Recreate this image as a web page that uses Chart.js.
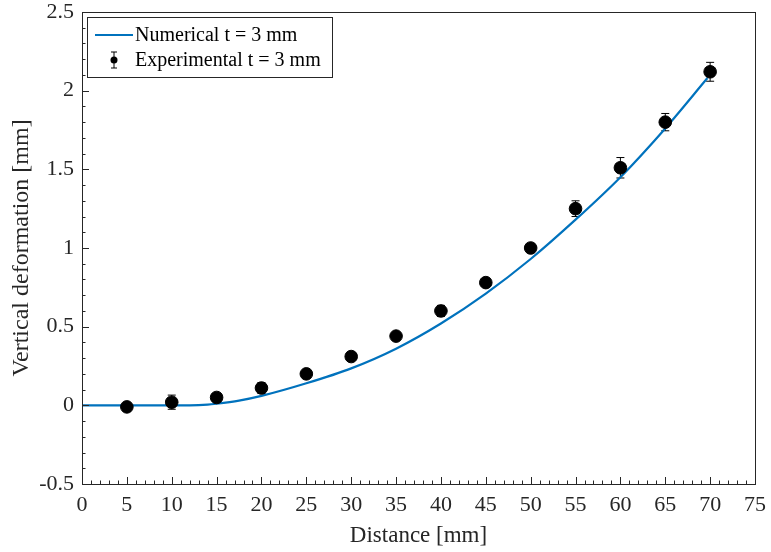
<!DOCTYPE html>
<html>
<head>
<meta charset="utf-8">
<script src="https://cdn.jsdelivr.net/npm/chart.js@4"></script>
<style>
  html, body { margin: 0; padding: 0; background: #fff; }
</style>
</head>
<body>
<canvas id="deform-chart" width="771" height="552"></canvas>
<script>
// experimental points
var expDistance = [5, 10, 15, 20, 25, 30, 35, 40, 45, 50, 55, 60, 65, 70];
var expDeform = [-0.01, 0.02, 0.05, 0.11, 0.2, 0.31, 0.44, 0.6, 0.78, 1.0, 1.25, 1.51, 1.8, 2.12];
var expError = [0.02, 0.045, 0.02, 0.035, 0.02, 0.02, 0.02, 0.035, 0.025, 0.025, 0.05, 0.065, 0.055, 0.06];

// numerical curve
var numDistance = [0, 5, 10, 12, 14, 15, 17.5, 20, 25, 30, 35, 40, 45, 50, 55, 60, 65, 69.7];
var numDeform = [0, 0, 0, 0, 0.004, 0.01, 0.03, 0.06, 0.14, 0.235, 0.36, 0.52, 0.71, 0.93, 1.18, 1.45, 1.76, 2.08];

var xTicks = [0, 5, 10, 15, 20, 25, 30, 35, 40, 45, 50, 55, 60, 65, 70, 75];
var yTicks = [-0.5, 0, 0.5, 1, 1.5, 2, 2.5];

var serif = '"Liberation Serif", "DejaVu Serif", serif';

function toPoints(xs, ys) {
  var pts = [];
  for (var i = 0; i < xs.length; i++) pts.push({ x: xs[i], y: ys[i] });
  return pts;
}

// error bars with caps
var errorBars = {
  id: 'errorBars',
  beforeDatasetsDraw: function (chart) {
    var ctx = chart.ctx;
    var xs = chart.scales.x, ys = chart.scales.y;
    ctx.save();
    ctx.strokeStyle = '#000';
    ctx.lineWidth = 1;
    for (var i = 0; i < expDistance.length; i++) {
      var px = xs.getPixelForValue(expDistance[i]);
      var top = ys.getPixelForValue(expDeform[i] + expError[i]);
      var bot = ys.getPixelForValue(expDeform[i] - expError[i]);
      ctx.beginPath();
      ctx.moveTo(px, top); ctx.lineTo(px, bot);
      ctx.moveTo(px - 4, top); ctx.lineTo(px + 4, top);
      ctx.moveTo(px - 4, bot); ctx.lineTo(px + 4, bot);
      ctx.stroke();
    }
    ctx.restore();
  }
};

// box, inward ticks and legend
var frame = {
  id: 'frame',
  afterDraw: function (chart) {
    var ctx = chart.ctx;
    var a = chart.chartArea;
    var xs = chart.scales.x, ys = chart.scales.y;
    ctx.save();
    ctx.strokeStyle = '#262626';
    ctx.lineWidth = 1;
    ctx.beginPath();
    var v, p;
    for (v = 0; v <= 75; v++) {
      p = Math.round(xs.getPixelForValue(v)) + 0.5;
      var len = (v % 5 === 0) ? 7 : 3.5;
      ctx.moveTo(p, a.bottom); ctx.lineTo(p, a.bottom - len);
    }
    for (v = -5; v <= 25; v++) {
      p = Math.round(ys.getPixelForValue(v / 10)) + 0.5;
      var len2 = (v % 5 === 0) ? 7 : 3.5;
      ctx.moveTo(a.left, p); ctx.lineTo(a.left + len2, p);
    }
    ctx.stroke();
    ctx.strokeRect(Math.round(a.left) + 0.5, Math.round(a.top) + 0.5,
      Math.round(a.right - a.left), Math.round(a.bottom - a.top));

    // legend
    var lx = a.left + 5, ly = a.top + 5;
    ctx.fillStyle = '#fff';
    ctx.fillRect(lx, ly, 245, 60);
    ctx.strokeStyle = '#262626';
    ctx.strokeRect(lx + 0.5, ly + 0.5, 245, 60);
    ctx.strokeStyle = '#0072BD';
    ctx.lineWidth = 2;
    ctx.beginPath();
    ctx.moveTo(lx + 8, ly + 18); ctx.lineTo(lx + 46, ly + 18);
    ctx.stroke();
    var mx = lx + 27, my = ly + 43;
    ctx.strokeStyle = '#000';
    ctx.lineWidth = 1;
    ctx.beginPath();
    ctx.moveTo(mx, my - 8); ctx.lineTo(mx, my + 8);
    ctx.moveTo(mx - 3, my - 8); ctx.lineTo(mx + 3, my - 8);
    ctx.moveTo(mx - 3, my + 8); ctx.lineTo(mx + 3, my + 8);
    ctx.stroke();
    ctx.fillStyle = '#000';
    ctx.beginPath();
    ctx.arc(mx, my, 3.5, 0, Math.PI * 2);
    ctx.fill();
    ctx.font = '20px ' + serif;
    ctx.textBaseline = 'middle';
    ctx.fillText('Numerical t = 3 mm', lx + 48, ly + 19);
    ctx.fillText('Experimental t = 3 mm', lx + 48, ly + 44);
    ctx.restore();
  }
};

var ctx = document.getElementById('deform-chart').getContext('2d');
var chart = new Chart(ctx, {
  type: 'scatter',
  data: {
    datasets: [{
      label: 'Numerical t = 3 mm',
      type: 'line',
      data: toPoints(numDistance, numDeform),
      borderColor: '#0072BD',
      borderWidth: 2.2,
      pointRadius: 0,
      cubicInterpolationMode: 'monotone',
      fill: false,
      order: 2
    }, {
      label: 'Experimental t = 3 mm',
      data: toPoints(expDistance, expDeform),
      backgroundColor: '#000',
      borderColor: '#000',
      pointRadius: 6.3,
      order: 1
    }]
  },
  options: {
    responsive: false,
    animation: false,
    devicePixelRatio: 1,
    layout: { padding: { top: 12, right: 16, left: 0, bottom: 0 } },
    plugins: {
      legend: { display: false },
      tooltip: { enabled: false }
    },
    scales: {
      x: {
        type: 'linear',
        min: 0,
        max: 75,
        afterFit: function (s) { s.height = 68; s.paddingLeft = 0; s.paddingRight = 0; },
        afterBuildTicks: function (s) { s.ticks = xTicks.map(function (v) { return { value: v }; }); },
        grid: { display: false, drawTicks: false },
        border: { display: false },
        ticks: { color: '#262626', font: { family: serif, size: 22 }, padding: 8, maxRotation: 0 },
        title: { display: true, text: 'Distance [mm]', color: '#262626', font: { family: serif, size: 23 }, padding: { top: 0, bottom: 2 } }
      },
      y: {
        type: 'linear',
        min: -0.5,
        max: 2.5,
        afterFit: function (s) { s.width = 82; s.paddingTop = 0; s.paddingBottom = 0; },
        afterBuildTicks: function (s) { s.ticks = yTicks.map(function (v) { return { value: v }; }); },
        grid: { display: false, drawTicks: false },
        border: { display: false },
        ticks: {
          color: '#262626', font: { family: serif, size: 22 }, padding: 8,
          callback: function (v) { return String(v); }
        },
        title: { display: true, text: 'Vertical deformation [mm]', color: '#262626', font: { family: serif, size: 24 }, padding: { top: 7, bottom: 0 } }
      }
    }
  },
  plugins: [errorBars, frame]
});
</script>
</body>
</html>
